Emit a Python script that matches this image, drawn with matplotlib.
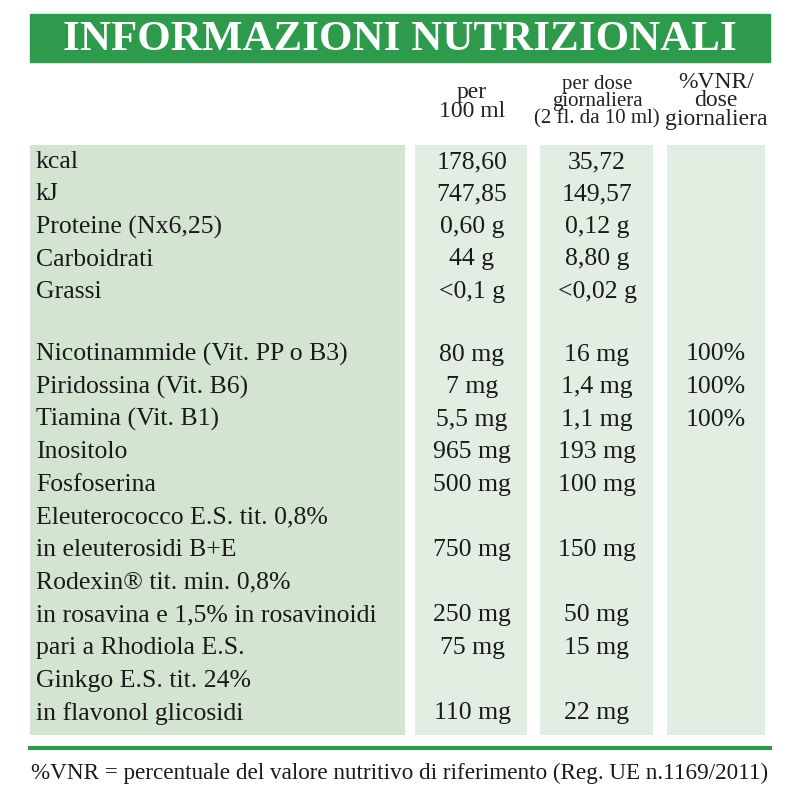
import matplotlib
matplotlib.use("Agg")
import matplotlib.pyplot as plt
from matplotlib.patches import Rectangle

title = "INFORMAZIONI NUTRIZIONALI"
col_headers = ["per\n100 ml", "per dose\ngiornaliera\n(2 fl. da 10 ml)", "%VNR/\ndose\ngiornaliera"]
labels = ["kcal", "kJ", "Proteine (Nx6,25)", "Carboidrati", "Grassi", "",
          "Nicotinammide (Vit. PP o B3)", "Piridossina (Vit. B6)", "Tiamina (Vit. B1)",
          "Inositolo", "Fosfoserina", "Eleuterococco E.S. tit. 0,8%",
          "in eleuterosidi B+E", "Rodexin® tit. min. 0,8%",
          "in rosavina e 1,5% in rosavinoidi", "pari a Rhodiola E.S.",
          "Ginkgo E.S. tit. 24%", "in flavonol glicosidi"]
per100 = ["178,60", "747,85", "0,60 g", "44 g", "<0,1 g", "", "80 mg", "7 mg", "5,5 mg",
          "965 mg", "500 mg", "", "750 mg", "", "250 mg", "75 mg", "", "110 mg"]
perdose = ["35,72", "149,57", "0,12 g", "8,80 g", "<0,02 g", "", "16 mg", "1,4 mg", "1,1 mg",
           "193 mg", "100 mg", "", "150 mg", "", "50 mg", "15 mg", "", "22 mg"]
vnr = ["", "", "", "", "", "", "100%", "100%", "100%", "", "", "", "", "", "", "", "", ""]
footer = "%VNR = percentuale del valore nutritivo di riferimento (Reg. UE n.1169/2011)"

GREEN = "#2e9a4c"
fig = plt.figure(figsize=(8, 8), dpi=100)
ax = fig.add_axes([0, 0, 1, 1])
ax.set_xlim(0, 800); ax.set_ylim(800, 0); ax.axis("off")
serif = ["Liberation Serif", "DejaVu Serif"]

ax.add_patch(Rectangle((30, 14), 740, 48, color=GREEN))
ax.text(400, 40, title, color="white", fontsize=31, fontweight="bold",
        ha="center", va="center", family=serif)

bands = [(30, 375, "#d3e5d1"), (415, 112, "#e3eee2"), (540, 113, "#e3eee2"), (667, 98, "#e3eee2")]
for x, w, c in bands:
    ax.add_patch(Rectangle((x, 145), w, 590, color=c, lw=0))

hx = [472, 597, 716]
hy = [102, 102, 101]
for x, y, t, fs in zip(hx, hy, col_headers, [17, 15, 17]):
    ax.text(x, y, t, ha="center", va="center", fontsize=fs, family=serif,
            linespacing=0.85, color="#222222")

y0, dy = 162, 32.5
for i, (l, a, b, v) in enumerate(zip(labels, per100, perdose, vnr)):
    y = y0 + i * dy if i < 6 else y0 + 5 * dy + 30 + (i - 6) * 32.6
    kw = dict(va="center", fontsize=18.5, family=serif, color="#1a1a1a")
    ax.text(36, y, l, ha="left", **kw)
    ax.text(472, y, a, ha="center", **kw)
    ax.text(597, y, b, ha="center", **kw)
    ax.text(716, y, v, ha="center", **kw)

ax.plot([30, 770], [748, 748], color=GREEN, lw=3)
ax.text(400, 773, footer, ha="center", va="center", fontsize=16.7, family=serif, color="#1a1a1a")
fig.savefig("out.png", dpi=100)
